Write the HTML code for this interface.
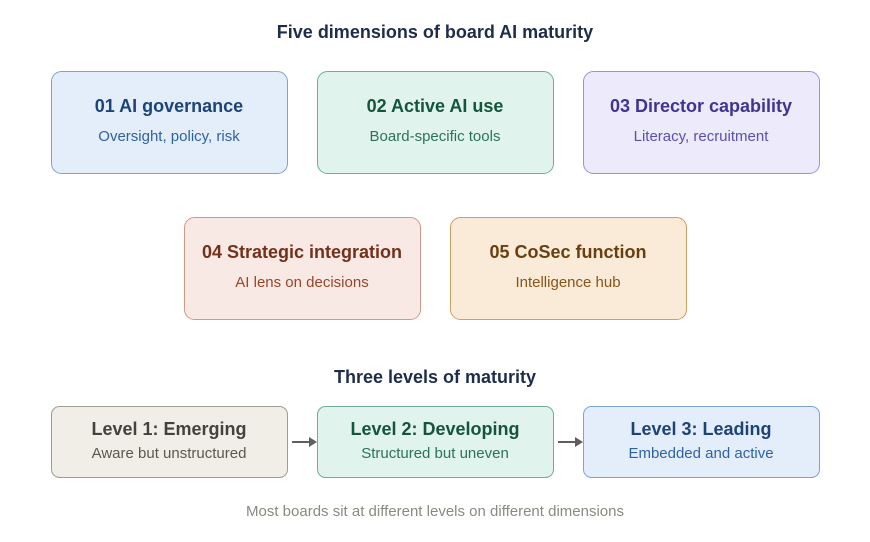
<!DOCTYPE html>
<html><head><meta charset="utf-8"><style>
body{margin:0;background:#fff;width:870px;height:537px;overflow:hidden;font-family:"Liberation Sans",sans-serif}
</style></head><body>
<svg width="870" height="537" viewBox="0 0 870 537" xmlns="http://www.w3.org/2000/svg" font-family="Liberation Sans, sans-serif" text-anchor="middle">
<text x="435" y="38" font-size="18" font-weight="bold" fill="#1f2d4a">Five dimensions of board AI maturity</text>
<rect x="51.5" y="71.5" width="236" height="102" rx="10" fill="#e4eefa" stroke="#7ea3d3"/>
<text x="169" y="112" font-size="18" font-weight="bold" fill="#1d4477">01 AI governance</text>
<text x="169" y="141" font-size="15" fill="#2f62a3">Oversight, policy, risk</text>
<rect x="317.5" y="71.5" width="236" height="102" rx="10" fill="#e0f3ec" stroke="#6fae93"/>
<text x="435" y="112" font-size="18" font-weight="bold" fill="#15553d">02 Active AI use</text>
<text x="435" y="141" font-size="15" fill="#2b7358">Board-specific tools</text>
<rect x="583.5" y="71.5" width="236" height="102" rx="10" fill="#edeafb" stroke="#9b91d6"/>
<text x="701" y="112" font-size="18" font-weight="bold" fill="#3f3591">03 Director capability</text>
<text x="701" y="141" font-size="15" fill="#5a4fb5">Literacy, recruitment</text>
<rect x="184.5" y="217.5" width="236" height="102" rx="10" fill="#f8e9e4" stroke="#d29a86"/>
<text x="302" y="258" font-size="18" font-weight="bold" fill="#73301a">04 Strategic integration</text>
<text x="302" y="287" font-size="15" fill="#9a4528">AI lens on decisions</text>
<rect x="450.5" y="217.5" width="236" height="102" rx="10" fill="#f9ebd8" stroke="#cf9e62"/>
<text x="568" y="258" font-size="18" font-weight="bold" fill="#6a3f0f">05 CoSec function</text>
<text x="568" y="287" font-size="15" fill="#87541a">Intelligence hub</text>
<text x="435" y="383" font-size="18" font-weight="bold" fill="#1f2d4a">Three levels of maturity</text>
<rect x="51.5" y="406.5" width="236" height="71" rx="8" fill="#f1eee8" stroke="#a09c93"/>
<text x="169" y="435" font-size="18" font-weight="bold" fill="#45423d">Level 1: Emerging</text>
<text x="169" y="458" font-size="15" fill="#5b5751">Aware but unstructured</text>
<rect x="317.5" y="406.5" width="236" height="71" rx="8" fill="#e0f3ec" stroke="#6fae93"/>
<text x="435" y="435" font-size="18" font-weight="bold" fill="#15553d">Level 2: Developing</text>
<text x="435" y="458" font-size="15" fill="#2b7358">Structured but uneven</text>
<rect x="583.5" y="406.5" width="236" height="71" rx="8" fill="#e4eefa" stroke="#7ea3d3"/>
<text x="701" y="435" font-size="18" font-weight="bold" fill="#1d4477">Level 3: Leading</text>
<text x="701" y="458" font-size="15" fill="#2f62a3">Embedded and active</text>
<line x1="292" y1="442" x2="310" y2="442" stroke="#5f5f5f" stroke-width="2"/>
<polygon points="309,437 317,442 309,447" fill="#5f5f5f"/>
<line x1="558" y1="442" x2="576" y2="442" stroke="#5f5f5f" stroke-width="2"/>
<polygon points="575,437 583,442 575,447" fill="#5f5f5f"/>
<text x="435" y="516" font-size="15" fill="#8a8a80">Most boards sit at different levels on different dimensions</text>
</svg>
</body></html>
